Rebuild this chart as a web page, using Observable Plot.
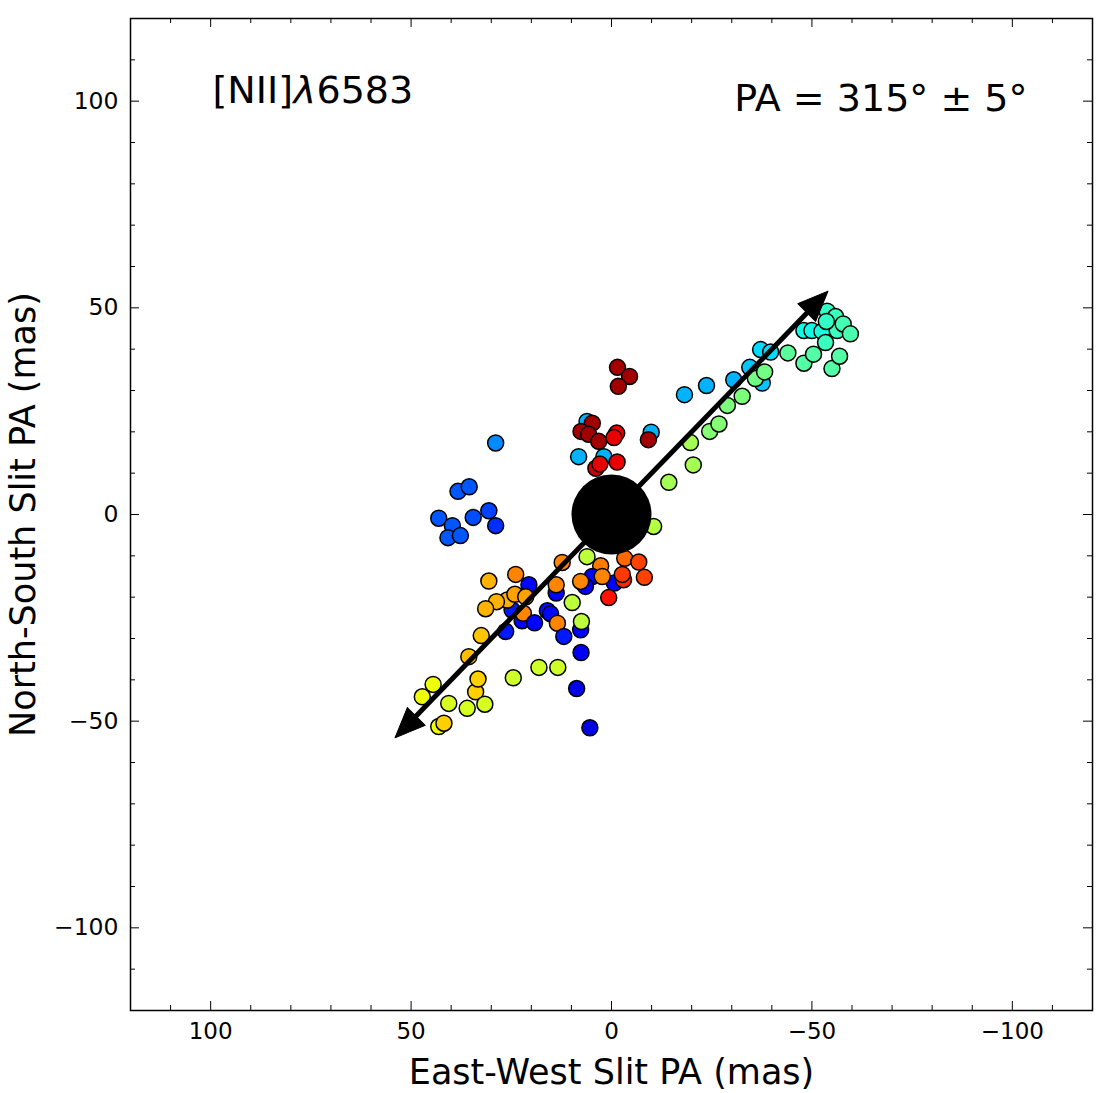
<!DOCTYPE html>
<html><head><meta charset="utf-8">
<script src="https://cdn.jsdelivr.net/npm/d3@7"></script>
<script src="https://cdn.jsdelivr.net/npm/@observablehq/plot@0.6"></script>
<style>body{margin:0;background:#fff;} #chart svg{display:block;}</style>
</head><body><div id="chart"></div>
<script>
// East-West offset (mas), North-South offset (mas), colour value (jet 0..1)
const ptX = [
  -1.5,-4.5,-1.7,
  6.1,-9.9,
  4.8,7.6,5.7,3.2,-9.2,
  -1.3,-0.6,
  8.2,1.9,
  3.9,2.9,-1.4,
  -18.2,-23.7,-30.5,-34.5,28.9,
  38.3,35.5,43.1,39.7,40.8,37.7,34.5,30.6,28.9,
  -14.3,-19.7,-20.4,-10.5,
  -24.5,-26.8,-28.9,-32.6,-37.6,-35.9,-38.2,
  -37.2,-39.7,
  -44.0,-48.0,-50.4,-55.0,-56.9,
  -48.0,-50.0,-52.5,
  -53.8,-55.9,-56.3,-57.8,-59.6,-53.6,-53.4,
  12.3,6.1,2.7,-3.3,-6.8,-8.2,
  4.8,6.5,-0.7,2.3,7.7,-3.0,-2.7,0.7,
  13.8,13.8,20.6,23.9,30.6,
  24.8,26.0,28.7,24.1,21.4,31.4,
  22.3,22.0,19.2,16.0,15.2,13.5,9.8,
  11.9,7.7,7.5,26.4,32.5,7.6,35.6,
  18.1,13.4,24.5,33.9,33.3,44.5,47.2,40.6,36.0,31.6,8.7,43.1,41.8,5.4
];
const ptY = [
  35.6,33.4,31.0,
  22.5,19.9,
  22.1,20.1,19.4,17.7,18.1,
  19.7,18.6,
  14.0,14.0,
  11.2,12.2,12.7,
  29.0,31.2,32.6,35.6,17.3,
  5.6,6.7,-0.9,-2.7,-5.6,-5.1,-0.7,0.9,-2.7,
  7.8,17.4,12.0,-2.9,
  20.1,21.9,26.4,28.6,31.8,32.9,34.5,
  39.9,39.3,
  39.1,36.6,38.8,35.3,38.3,
  44.5,44.5,44.3,
  49.2,47.9,44.5,46.1,43.7,46.7,41.6,
  -11.6,-10.2,-12.4,-10.6,-11.5,-15.2,
  -15.0,-17.4,-16.6,-15.0,-16.2,-15.8,-14.5,-20.1,
  -19.0,-17.0,-17.0,-14.5,-16.1,
  -23.1,-20.7,-21.1,-19.3,-19.9,-22.8,
  -25.7,-23.9,-26.2,-23.3,-24.0,-26.3,-21.3,
  -29.5,-27.9,-25.9,-28.3,-29.3,-33.4,-34.4,
  -37.0,-37.0,-39.5,-42.9,-39.8,-41.1,-44.1,-45.7,-46.9,-45.9,-42.1,-51.3,-50.5,-51.6
];
const ptC = [
  0.97,0.97,0.97,
  0.30,0.30,
  0.97,0.97,0.97,0.97,0.97,
  0.91,0.91,
  0.30,0.30,
  0.93,0.91,0.91,
  0.30,0.30,0.30,0.32,0.26,
  0.21,0.21,0.21,0.21,0.21,0.21,0.20,0.19,0.17,
  0.55,0.55,0.55,0.57,
  0.51,0.51,0.50,0.50,0.32,0.49,0.49,
  0.34,0.34,
  0.46,0.45,0.45,0.45,0.45,
  0.37,0.37,0.38,
  0.41,0.42,0.42,0.43,0.44,0.41,0.42,
  0.77,0.58,0.78,0.80,0.84,0.84,
  0.12,0.12,0.13,0.77,0.77,0.87,0.85,0.89,
  0.13,0.77,0.13,0.77,0.72,
  0.15,0.72,0.72,0.74,0.74,0.72,
  0.13,0.77,0.13,0.14,0.13,0.77,0.58,
  0.15,0.12,0.58,0.15,0.70,0.10,0.71,
  0.60,0.60,0.60,0.69,0.69,0.64,0.64,0.61,0.61,0.61,0.09,0.64,0.69,0.09
];
// central continuum source
const centerX = [0];
const centerY = [0];
// slit position angle arrow
const paDeg = 315;
const armTipX = [-54, 54];
const armTipY = [54, -54];
const armRotate = [360 - paDeg, 540 - paDeg];
// ticks
const majorTicks = [-100, -50, 0, 50, 100];
const minorTicks = [-110,-90,-80,-70,-60,-40,-30,-20,-10,10,20,30,40,60,70,80,90,110];
const lineLabel = ["[NII]", "λ", "6583"];
const paLabel = "PA = 315° ± 5°";
const xTitle = "East-West Slit PA (mas)";
const yTitle = "North-South Slit PA (mas)";

const points = ptX.map((x, i) => ({x, y: ptY[i], c: ptC[i]}));
const center = centerX.map((x, i) => ({x, y: centerY[i]}));
const arms = armTipX.map((x, i) => ({x1: 0, y1: 0, x2: x, y2: armTipY[i], rot: armRotate[i]}));

function pw(t, stops) {
  for (let i = 1; i < stops.length; i++) {
    if (t <= stops[i][0]) {
      const [t0, v0] = stops[i - 1], [t1, v1] = stops[i];
      return v0 + (v1 - v0) * (t - t0) / (t1 - t0);
    }
  }
  return stops[stops.length - 1][1];
}
function jet(t) {
  t = Math.max(0, Math.min(1, t));
  const r = pw(t, [[0,0],[0.35,0],[0.66,1],[0.89,1],[1,0.5]]);
  const g = pw(t, [[0,0],[0.125,0],[0.375,1],[0.64,1],[0.91,0],[1,0]]);
  const b = pw(t, [[0,0.5],[0.11,1],[0.34,1],[0.65,0],[1,0]]);
  return d3.rgb(r * 255, g * 255, b * 255).formatHex();
}

const W = 1099, H = 1093;
const mL = 130, mR = 7, mT = 18, mB = 83;
const innerW = W - mL - mR, innerH = H - mT - mB;
const majLen = 9, minLen = 5;

const headShape = {
  draw(ctx, l) {
    const w = l * 0.42;
    ctx.moveTo(0, -l);
    ctx.lineTo(-w, 0);
    ctx.lineTo(w, 0);
    ctx.closePath();
  }
};

const plot = Plot.plot({
  width: W, height: H,
  marginLeft: mL, marginRight: mR, marginTop: mT, marginBottom: mB,
  style: {fontFamily: "DejaVu Sans", background: "white", color: "black"},
  x: {domain: [120, -120]},
  y: {domain: [-120, 120]},
  color: {type: "linear", domain: [0, 1], interpolate: jet},
  marks: [
    Plot.dot(points, {x: "x", y: "y", fill: "c", r: 8, stroke: "black", strokeWidth: 1.5}),
    Plot.dot(center, {x: "x", y: "y", r: 40, fill: "black"}),
    Plot.arrow(arms, {x1: "x1", y1: "y1", x2: "x2", y2: "y2", headLength: 0, insetEnd: 16, strokeWidth: 5, stroke: "black", strokeLinecap: "butt"}),
    Plot.vector(arms, {x: "x2", y: "y2", rotate: "rot", anchor: "end", length: 30, shape: headShape, fill: "black", stroke: "black", strokeWidth: 1}),
    // inward ticks on all four sides
    Plot.ruleX(majorTicks, {insetTop: innerH - majLen, stroke: "black"}),
    Plot.ruleX(minorTicks, {insetTop: innerH - minLen, stroke: "black"}),
    Plot.ruleX(majorTicks, {insetBottom: innerH - majLen, stroke: "black"}),
    Plot.ruleX(minorTicks, {insetBottom: innerH - minLen, stroke: "black"}),
    Plot.ruleY(majorTicks, {insetRight: innerW - majLen, stroke: "black"}),
    Plot.ruleY(minorTicks, {insetRight: innerW - minLen, stroke: "black"}),
    Plot.ruleY(majorTicks, {insetLeft: innerW - majLen, stroke: "black"}),
    Plot.ruleY(minorTicks, {insetLeft: innerW - minLen, stroke: "black"}),
    Plot.frame({stroke: "black", strokeWidth: 1.5}),
    Plot.axisX({ticks: majorTicks, tickSize: 0, tickPadding: 12, fontSize: 23, label: null}),
    Plot.axisY({ticks: majorTicks, tickSize: 0, tickPadding: 12, fontSize: 23.5, label: null}),
    Plot.text([xTitle], {frameAnchor: "bottom", dy: 73, lineAnchor: "bottom", textAnchor: "middle", fontSize: 35, text: d => d}),
    Plot.text([yTitle], {frameAnchor: "left", dx: -107, rotate: -90, textAnchor: "middle", lineAnchor: "middle", fontSize: 35, text: d => d}),
    Plot.text([lineLabel[0]], {frameAnchor: "top-left", dx: 82, dy: 84, lineAnchor: "bottom", textAnchor: "start", fontSize: 38, text: d => d}),
    Plot.text([lineLabel[1]], {frameAnchor: "top-left", dx: 163, dy: 84, lineAnchor: "bottom", textAnchor: "start", fontSize: 38, fontStyle: "italic", text: d => d}),
    Plot.text([lineLabel[2]], {frameAnchor: "top-left", dx: 186, dy: 84, lineAnchor: "bottom", textAnchor: "start", fontSize: 38, text: d => d}),
    Plot.text([paLabel], {frameAnchor: "top-right", dx: -65, dy: 92, lineAnchor: "bottom", textAnchor: "end", fontSize: 38, text: d => d})
  ]
});
document.getElementById("chart").appendChild(plot);
</script>
</body></html>
